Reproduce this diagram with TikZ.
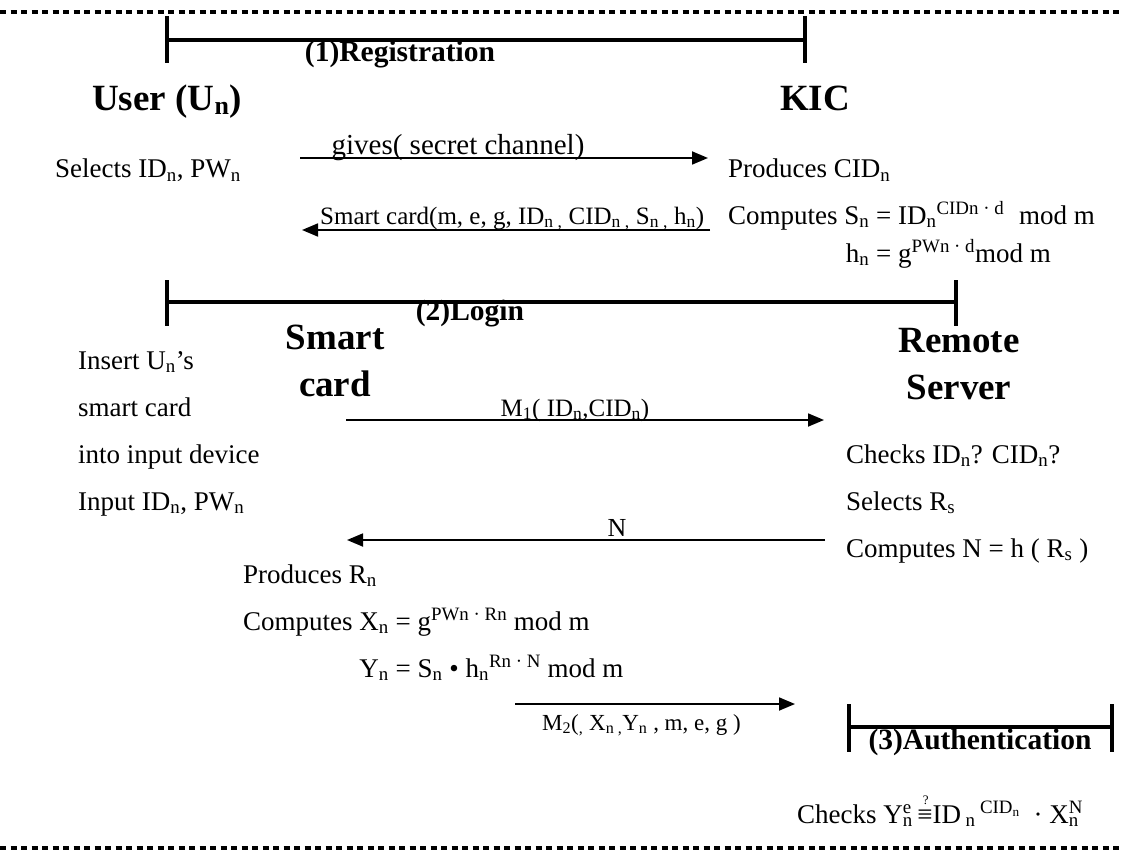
\documentclass[tikz,border=0pt]{standalone}
\usepackage{fontspec}
\setmainfont{Liberation Serif}
\usetikzlibrary{arrows.meta,positioning}
\newcommand{\sbs}[1]{\textsubscript{#1}}
\newcommand{\sps}[1]{\textsuperscript{#1}}
\newcommand{\subsup}[2]{\rlap{\sps{#2}}\sbs{#1}}
\newcommand{\qequiv}{\mbox{\rlap{\hspace{0.2em}\raisebox{0.7em}{\fontsize{13}{13}\selectfont ?}}≡}}

\begin{document}
\begin{tikzpicture}[x=1pt, y=-1pt,
    txt/.style={inner sep=0pt, font=\fontsize{27}{47}\selectfont, align=left},
    party/.style={inner sep=0pt, font=\fontsize{37}{47}\selectfont\bfseries, align=center},
    phase/.style={inner sep=0pt, font=\fontsize{29.5}{36}\selectfont\bfseries},
    msglabel/.style={inner sep=0pt, font=\fontsize{25}{30}\selectfont},
    msg/.style={-{Triangle[length=16pt,width=13pt]}, line width=1.8pt},
    phasebar/.style={line width=3.5pt},
    phasetick/.style={line width=4pt},
    edgeline/.style={line width=4pt, dash pattern=on 6pt off 4.5pt}]
    \useasboundingbox (0,0) rectangle (1123,853);

    % dotted frame
    \draw [edgeline] (0,12) -- (1123,12);
    \draw [edgeline] (0,848) -- (1123,848);

    % (1) registration
    \coordinate (regL) at (167,40);
    \coordinate (regR) at (805,40);
    \draw [phasebar] (regL) -- (regR);
    \draw [phasetick] (167,16) -- (167,63);
    \draw [phasetick] (805,16) -- (805,63);
    \node [phase, anchor=base] (regttl) at (400,62) {(1)Registration};
    \node [party, anchor=base] (usr) at (167,111) {User (U\sbs{n})};
    \node [party, anchor=base] (kic) at (815,111) {KIC};

    \node [txt, anchor=base west] (usrsel) at (55,178) {Selects ID\sbs{n}, PW\sbs{n}};
    \node [txt, anchor=base west] (kicprod) at (728,178) {Produces CID\sbs{n}};
    \node [txt, anchor=base west, font=\fontsize{27}{38}\selectfont] (kiccomp) at (728,262)
        {Computes S\sbs{n} = ID\sbs{n}\sps{CIDn · d}\hspace{0.3em} mod m\\
         \hphantom{Computes S\sbs{n}}\llap{h\sbs{n}} = g\sps{PWn · d}mod m};

    \coordinate (givesA) at (300,158);
    \coordinate (givesB) at (708,158);
    \draw [msg] (givesA) -- (givesB);
    \node [msglabel, font=\fontsize{29}{34}\selectfont, anchor=base] (gives) at (458,155) {gives( secret channel)};

    \coordinate (cardA) at (710,230);
    \coordinate (cardB) at (302,230);
    \draw [msg] (cardA) -- (cardB);
    \node [msglabel, anchor=base west] (cardlbl) at (320,224)
        {Smart card(m, e, g, ID\sbs{n ,} CID\sbs{n ,} S\sbs{n ,} h\sbs{n})};

    % (2) login
    \coordinate (logL) at (167,302);
    \coordinate (logR) at (956,302);
    \draw [phasebar] (logL) -- (logR);
    \draw [phasetick] (167,280) -- (167,326);
    \draw [phasetick] (956,280) -- (956,326);
    \node [phase, anchor=base] (logttl) at (470,320) {(2)Login};
    \node [party, anchor=base] (card) at (335,396) {Smart\\card};
    \node [party, anchor=base] (srv) at (959,399) {Remote\\Server};

    \node [txt, anchor=base west] (usrsteps) at (78,510)
        {Insert U\sbs{n}’s\\smart card\\into input device\\Input ID\sbs{n}, PW\sbs{n}};
    \node [txt, anchor=base west] (srvsteps) at (846,557)
        {Checks ID\sbs{n}? CID\sbs{n}?\\Selects R\sbs{s}\\Computes N = h ( R\sbs{s} )};

    \coordinate (m1A) at (346,420);
    \coordinate (m1B) at (824,420);
    \draw [msg] (m1A) -- (m1B);
    \node [msglabel, anchor=base] (m1lbl) at (575,416) {M\sbs{1}( ID\sbs{n},CID\sbs{n})};

    \coordinate (nA) at (825,540);
    \coordinate (nB) at (347,540);
    \draw [msg] (nA) -- (nB);
    \node [msglabel, font=\fontsize{26}{30}\selectfont, anchor=base] (nlbl) at (617,536) {N};

    \node [txt, anchor=base west] (cardcomp) at (243,677)
        {Produces R\sbs{n}\\
         Computes X\sbs{n} = g\sps{PWn · Rn} mod m\\
         \hphantom{Computes X\sbs{n}}\llap{Y\sbs{n}} = S\sbs{n} • h\sbs{n}\sps{Rn · N} mod m};

    \coordinate (m2A) at (515,704);
    \coordinate (m2B) at (795,704);
    \draw [msg] (m2A) -- (m2B);
    \node [msglabel, font=\fontsize{23}{28}\selectfont, anchor=base west] (m2lbl) at (542,730)
        {M\sbs{2}(\sbs{,} X\sbs{n ,}Y\sbs{n} , m, e, g )};

    % (3) authentication
    \coordinate (authL) at (849,727);
    \coordinate (authR) at (1112,727);
    \draw [phasebar] (authL) -- (authR);
    \draw [phasetick] (849,704) -- (849,752);
    \draw [phasetick] (1112,704) -- (1112,752);
    \node [phase, anchor=base] (authttl) at (980,749) {(3)Authentication};
    \node [txt, anchor=base west] (authchk) at (797,823)
        {Checks Y\subsup{n}{e}\,\qequiv ID\,\sbs{n}\,\sps{CID\sbs{n}}\hspace{0.5em}· X\subsup{n}{N}};
\end{tikzpicture}
\end{document}
